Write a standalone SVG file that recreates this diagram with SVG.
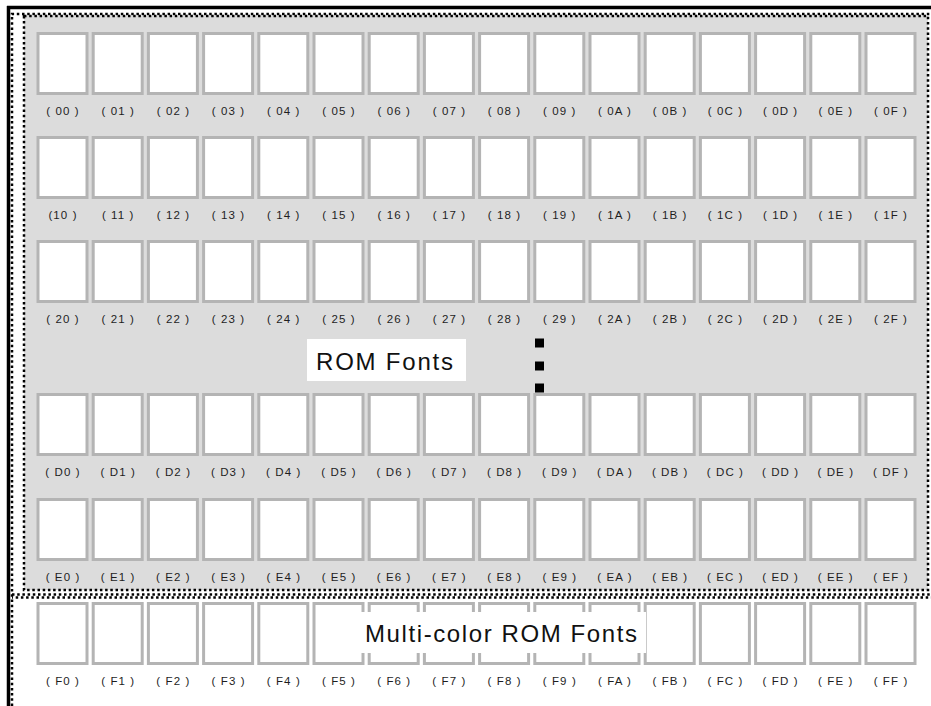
<svg xmlns="http://www.w3.org/2000/svg" width="931" height="706" viewBox="0 0 931 706">
<style>
.c{fill:#ffffff;stroke:#b4b4b4;stroke-width:3}
.l{font-family:"Liberation Sans",Arial,sans-serif;font-size:11.5px;letter-spacing:1.1px;fill:#1e1e1e;text-anchor:middle}
.big{font-family:"Liberation Sans",Arial,sans-serif;font-size:24px;fill:#111}
.dot{fill:none;stroke:#000;stroke-width:2.5;stroke-dasharray:2.5 2.7}
</style>
<rect x="0" y="0" width="931" height="706" fill="#ffffff"/>
<g id="frame">
<path d="M7,7.5 H931" stroke="#000" stroke-width="3.5" fill="none"/>
<path d="M8.5,6 V706" stroke="#000" stroke-width="3.5" fill="none"/>
<path class="dot" d="M12,706 V14 H931"/>
<rect id="rom-area" x="24" y="16" width="904" height="574" fill="#dcdcdc" stroke="#000" stroke-width="2.5" stroke-dasharray="2.5 2.7"/>
<path class="dot" d="M12,594.5 H931"/>
<path class="dot" d="M12,597.5 H931" stroke-dashoffset="1.5"/>
</g>
<g id="cells">
<g id="n00"><rect class="c" x="38" y="33.5" width="49" height="60"/><text class="l" x="63" y="115">( 00 )</text></g>
<g id="n01"><rect class="c" x="93.2" y="33.5" width="49" height="60"/><text class="l" x="118.2" y="115">( 01 )</text></g>
<g id="n02"><rect class="c" x="148.4" y="33.5" width="49" height="60"/><text class="l" x="173.4" y="115">( 02 )</text></g>
<g id="n03"><rect class="c" x="203.6" y="33.5" width="49" height="60"/><text class="l" x="228.6" y="115">( 03 )</text></g>
<g id="n04"><rect class="c" x="258.8" y="33.5" width="49" height="60"/><text class="l" x="283.8" y="115">( 04 )</text></g>
<g id="n05"><rect class="c" x="314" y="33.5" width="49" height="60"/><text class="l" x="339" y="115">( 05 )</text></g>
<g id="n06"><rect class="c" x="369.2" y="33.5" width="49" height="60"/><text class="l" x="394.2" y="115">( 06 )</text></g>
<g id="n07"><rect class="c" x="424.4" y="33.5" width="49" height="60"/><text class="l" x="449.4" y="115">( 07 )</text></g>
<g id="n08"><rect class="c" x="479.6" y="33.5" width="49" height="60"/><text class="l" x="504.6" y="115">( 08 )</text></g>
<g id="n09"><rect class="c" x="534.8" y="33.5" width="49" height="60"/><text class="l" x="559.8" y="115">( 09 )</text></g>
<g id="n0A"><rect class="c" x="590" y="33.5" width="49" height="60"/><text class="l" x="615" y="115">( 0A )</text></g>
<g id="n0B"><rect class="c" x="645.2" y="33.5" width="49" height="60"/><text class="l" x="670.2" y="115">( 0B )</text></g>
<g id="n0C"><rect class="c" x="700.4" y="33.5" width="49" height="60"/><text class="l" x="725.4" y="115">( 0C )</text></g>
<g id="n0D"><rect class="c" x="755.6" y="33.5" width="49" height="60"/><text class="l" x="780.6" y="115">( 0D )</text></g>
<g id="n0E"><rect class="c" x="810.8" y="33.5" width="49" height="60"/><text class="l" x="835.8" y="115">( 0E )</text></g>
<g id="n0F"><rect class="c" x="866" y="33.5" width="49" height="60"/><text class="l" x="891" y="115">( 0F )</text></g>

<g id="n10"><rect class="c" x="38" y="137.5" width="49" height="60"/><text class="l" x="63" y="219">(10 )</text></g>
<g id="n11"><rect class="c" x="93.2" y="137.5" width="49" height="60"/><text class="l" x="118.2" y="219">( 11 )</text></g>
<g id="n12"><rect class="c" x="148.4" y="137.5" width="49" height="60"/><text class="l" x="173.4" y="219">( 12 )</text></g>
<g id="n13"><rect class="c" x="203.6" y="137.5" width="49" height="60"/><text class="l" x="228.6" y="219">( 13 )</text></g>
<g id="n14"><rect class="c" x="258.8" y="137.5" width="49" height="60"/><text class="l" x="283.8" y="219">( 14 )</text></g>
<g id="n15"><rect class="c" x="314" y="137.5" width="49" height="60"/><text class="l" x="339" y="219">( 15 )</text></g>
<g id="n16"><rect class="c" x="369.2" y="137.5" width="49" height="60"/><text class="l" x="394.2" y="219">( 16 )</text></g>
<g id="n17"><rect class="c" x="424.4" y="137.5" width="49" height="60"/><text class="l" x="449.4" y="219">( 17 )</text></g>
<g id="n18"><rect class="c" x="479.6" y="137.5" width="49" height="60"/><text class="l" x="504.6" y="219">( 18 )</text></g>
<g id="n19"><rect class="c" x="534.8" y="137.5" width="49" height="60"/><text class="l" x="559.8" y="219">( 19 )</text></g>
<g id="n1A"><rect class="c" x="590" y="137.5" width="49" height="60"/><text class="l" x="615" y="219">( 1A )</text></g>
<g id="n1B"><rect class="c" x="645.2" y="137.5" width="49" height="60"/><text class="l" x="670.2" y="219">( 1B )</text></g>
<g id="n1C"><rect class="c" x="700.4" y="137.5" width="49" height="60"/><text class="l" x="725.4" y="219">( 1C )</text></g>
<g id="n1D"><rect class="c" x="755.6" y="137.5" width="49" height="60"/><text class="l" x="780.6" y="219">( 1D )</text></g>
<g id="n1E"><rect class="c" x="810.8" y="137.5" width="49" height="60"/><text class="l" x="835.8" y="219">( 1E )</text></g>
<g id="n1F"><rect class="c" x="866" y="137.5" width="49" height="60"/><text class="l" x="891" y="219">( 1F )</text></g>

<g id="n20"><rect class="c" x="38" y="241.5" width="49" height="60"/><text class="l" x="63" y="323">( 20 )</text></g>
<g id="n21"><rect class="c" x="93.2" y="241.5" width="49" height="60"/><text class="l" x="118.2" y="323">( 21 )</text></g>
<g id="n22"><rect class="c" x="148.4" y="241.5" width="49" height="60"/><text class="l" x="173.4" y="323">( 22 )</text></g>
<g id="n23"><rect class="c" x="203.6" y="241.5" width="49" height="60"/><text class="l" x="228.6" y="323">( 23 )</text></g>
<g id="n24"><rect class="c" x="258.8" y="241.5" width="49" height="60"/><text class="l" x="283.8" y="323">( 24 )</text></g>
<g id="n25"><rect class="c" x="314" y="241.5" width="49" height="60"/><text class="l" x="339" y="323">( 25 )</text></g>
<g id="n26"><rect class="c" x="369.2" y="241.5" width="49" height="60"/><text class="l" x="394.2" y="323">( 26 )</text></g>
<g id="n27"><rect class="c" x="424.4" y="241.5" width="49" height="60"/><text class="l" x="449.4" y="323">( 27 )</text></g>
<g id="n28"><rect class="c" x="479.6" y="241.5" width="49" height="60"/><text class="l" x="504.6" y="323">( 28 )</text></g>
<g id="n29"><rect class="c" x="534.8" y="241.5" width="49" height="60"/><text class="l" x="559.8" y="323">( 29 )</text></g>
<g id="n2A"><rect class="c" x="590" y="241.5" width="49" height="60"/><text class="l" x="615" y="323">( 2A )</text></g>
<g id="n2B"><rect class="c" x="645.2" y="241.5" width="49" height="60"/><text class="l" x="670.2" y="323">( 2B )</text></g>
<g id="n2C"><rect class="c" x="700.4" y="241.5" width="49" height="60"/><text class="l" x="725.4" y="323">( 2C )</text></g>
<g id="n2D"><rect class="c" x="755.6" y="241.5" width="49" height="60"/><text class="l" x="780.6" y="323">( 2D )</text></g>
<g id="n2E"><rect class="c" x="810.8" y="241.5" width="49" height="60"/><text class="l" x="835.8" y="323">( 2E )</text></g>
<g id="n2F"><rect class="c" x="866" y="241.5" width="49" height="60"/><text class="l" x="891" y="323">( 2F )</text></g>

<g id="nD0"><rect class="c" x="38" y="394.5" width="49" height="60"/><text class="l" x="63" y="476">( D0 )</text></g>
<g id="nD1"><rect class="c" x="93.2" y="394.5" width="49" height="60"/><text class="l" x="118.2" y="476">( D1 )</text></g>
<g id="nD2"><rect class="c" x="148.4" y="394.5" width="49" height="60"/><text class="l" x="173.4" y="476">( D2 )</text></g>
<g id="nD3"><rect class="c" x="203.6" y="394.5" width="49" height="60"/><text class="l" x="228.6" y="476">( D3 )</text></g>
<g id="nD4"><rect class="c" x="258.8" y="394.5" width="49" height="60"/><text class="l" x="283.8" y="476">( D4 )</text></g>
<g id="nD5"><rect class="c" x="314" y="394.5" width="49" height="60"/><text class="l" x="339" y="476">( D5 )</text></g>
<g id="nD6"><rect class="c" x="369.2" y="394.5" width="49" height="60"/><text class="l" x="394.2" y="476">( D6 )</text></g>
<g id="nD7"><rect class="c" x="424.4" y="394.5" width="49" height="60"/><text class="l" x="449.4" y="476">( D7 )</text></g>
<g id="nD8"><rect class="c" x="479.6" y="394.5" width="49" height="60"/><text class="l" x="504.6" y="476">( D8 )</text></g>
<g id="nD9"><rect class="c" x="534.8" y="394.5" width="49" height="60"/><text class="l" x="559.8" y="476">( D9 )</text></g>
<g id="nDA"><rect class="c" x="590" y="394.5" width="49" height="60"/><text class="l" x="615" y="476">( DA )</text></g>
<g id="nDB"><rect class="c" x="645.2" y="394.5" width="49" height="60"/><text class="l" x="670.2" y="476">( DB )</text></g>
<g id="nDC"><rect class="c" x="700.4" y="394.5" width="49" height="60"/><text class="l" x="725.4" y="476">( DC )</text></g>
<g id="nDD"><rect class="c" x="755.6" y="394.5" width="49" height="60"/><text class="l" x="780.6" y="476">( DD )</text></g>
<g id="nDE"><rect class="c" x="810.8" y="394.5" width="49" height="60"/><text class="l" x="835.8" y="476">( DE )</text></g>
<g id="nDF"><rect class="c" x="866" y="394.5" width="49" height="60"/><text class="l" x="891" y="476">( DF )</text></g>

<g id="nE0"><rect class="c" x="38" y="499.5" width="49" height="60"/><text class="l" x="63" y="581">( E0 )</text></g>
<g id="nE1"><rect class="c" x="93.2" y="499.5" width="49" height="60"/><text class="l" x="118.2" y="581">( E1 )</text></g>
<g id="nE2"><rect class="c" x="148.4" y="499.5" width="49" height="60"/><text class="l" x="173.4" y="581">( E2 )</text></g>
<g id="nE3"><rect class="c" x="203.6" y="499.5" width="49" height="60"/><text class="l" x="228.6" y="581">( E3 )</text></g>
<g id="nE4"><rect class="c" x="258.8" y="499.5" width="49" height="60"/><text class="l" x="283.8" y="581">( E4 )</text></g>
<g id="nE5"><rect class="c" x="314" y="499.5" width="49" height="60"/><text class="l" x="339" y="581">( E5 )</text></g>
<g id="nE6"><rect class="c" x="369.2" y="499.5" width="49" height="60"/><text class="l" x="394.2" y="581">( E6 )</text></g>
<g id="nE7"><rect class="c" x="424.4" y="499.5" width="49" height="60"/><text class="l" x="449.4" y="581">( E7 )</text></g>
<g id="nE8"><rect class="c" x="479.6" y="499.5" width="49" height="60"/><text class="l" x="504.6" y="581">( E8 )</text></g>
<g id="nE9"><rect class="c" x="534.8" y="499.5" width="49" height="60"/><text class="l" x="559.8" y="581">( E9 )</text></g>
<g id="nEA"><rect class="c" x="590" y="499.5" width="49" height="60"/><text class="l" x="615" y="581">( EA )</text></g>
<g id="nEB"><rect class="c" x="645.2" y="499.5" width="49" height="60"/><text class="l" x="670.2" y="581">( EB )</text></g>
<g id="nEC"><rect class="c" x="700.4" y="499.5" width="49" height="60"/><text class="l" x="725.4" y="581">( EC )</text></g>
<g id="nED"><rect class="c" x="755.6" y="499.5" width="49" height="60"/><text class="l" x="780.6" y="581">( ED )</text></g>
<g id="nEE"><rect class="c" x="810.8" y="499.5" width="49" height="60"/><text class="l" x="835.8" y="581">( EE )</text></g>
<g id="nEF"><rect class="c" x="866" y="499.5" width="49" height="60"/><text class="l" x="891" y="581">( EF )</text></g>

<g id="nF0"><rect class="c" x="38" y="603.5" width="49" height="60"/><text class="l" x="63" y="685">( F0 )</text></g>
<g id="nF1"><rect class="c" x="93.2" y="603.5" width="49" height="60"/><text class="l" x="118.2" y="685">( F1 )</text></g>
<g id="nF2"><rect class="c" x="148.4" y="603.5" width="49" height="60"/><text class="l" x="173.4" y="685">( F2 )</text></g>
<g id="nF3"><rect class="c" x="203.6" y="603.5" width="49" height="60"/><text class="l" x="228.6" y="685">( F3 )</text></g>
<g id="nF4"><rect class="c" x="258.8" y="603.5" width="49" height="60"/><text class="l" x="283.8" y="685">( F4 )</text></g>
<g id="nF5"><rect class="c" x="314" y="603.5" width="49" height="60"/><text class="l" x="339" y="685">( F5 )</text></g>
<g id="nF6"><rect class="c" x="369.2" y="603.5" width="49" height="60"/><text class="l" x="394.2" y="685">( F6 )</text></g>
<g id="nF7"><rect class="c" x="424.4" y="603.5" width="49" height="60"/><text class="l" x="449.4" y="685">( F7 )</text></g>
<g id="nF8"><rect class="c" x="479.6" y="603.5" width="49" height="60"/><text class="l" x="504.6" y="685">( F8 )</text></g>
<g id="nF9"><rect class="c" x="534.8" y="603.5" width="49" height="60"/><text class="l" x="559.8" y="685">( F9 )</text></g>
<g id="nFA"><rect class="c" x="590" y="603.5" width="49" height="60"/><text class="l" x="615" y="685">( FA )</text></g>
<g id="nFB"><rect class="c" x="645.2" y="603.5" width="49" height="60"/><text class="l" x="670.2" y="685">( FB )</text></g>
<g id="nFC"><rect class="c" x="700.4" y="603.5" width="49" height="60"/><text class="l" x="725.4" y="685">( FC )</text></g>
<g id="nFD"><rect class="c" x="755.6" y="603.5" width="49" height="60"/><text class="l" x="780.6" y="685">( FD )</text></g>
<g id="nFE"><rect class="c" x="810.8" y="603.5" width="49" height="60"/><text class="l" x="835.8" y="685">( FE )</text></g>
<g id="nFF"><rect class="c" x="866" y="603.5" width="49" height="60"/><text class="l" x="891" y="685">( FF )</text></g>
</g>
<g id="connectors">
<rect x="535" y="338.5" width="9" height="9" fill="#000"/>
<rect x="535" y="361.5" width="9" height="9" fill="#000"/>
<rect x="535" y="383.5" width="9" height="9" fill="#000"/>
</g>
<g id="rom-label">
<rect x="307" y="339" width="159" height="42" fill="#ffffff"/>
<text class="big" x="316" y="370" letter-spacing="1.8">ROM Fonts</text>
</g>
<g id="multicolor-label">
<rect x="316" y="612" width="330" height="41" fill="#ffffff"/>
<text class="big" x="365" y="642" letter-spacing="1.6">Multi-color ROM Fonts</text>
</g>
</svg>
